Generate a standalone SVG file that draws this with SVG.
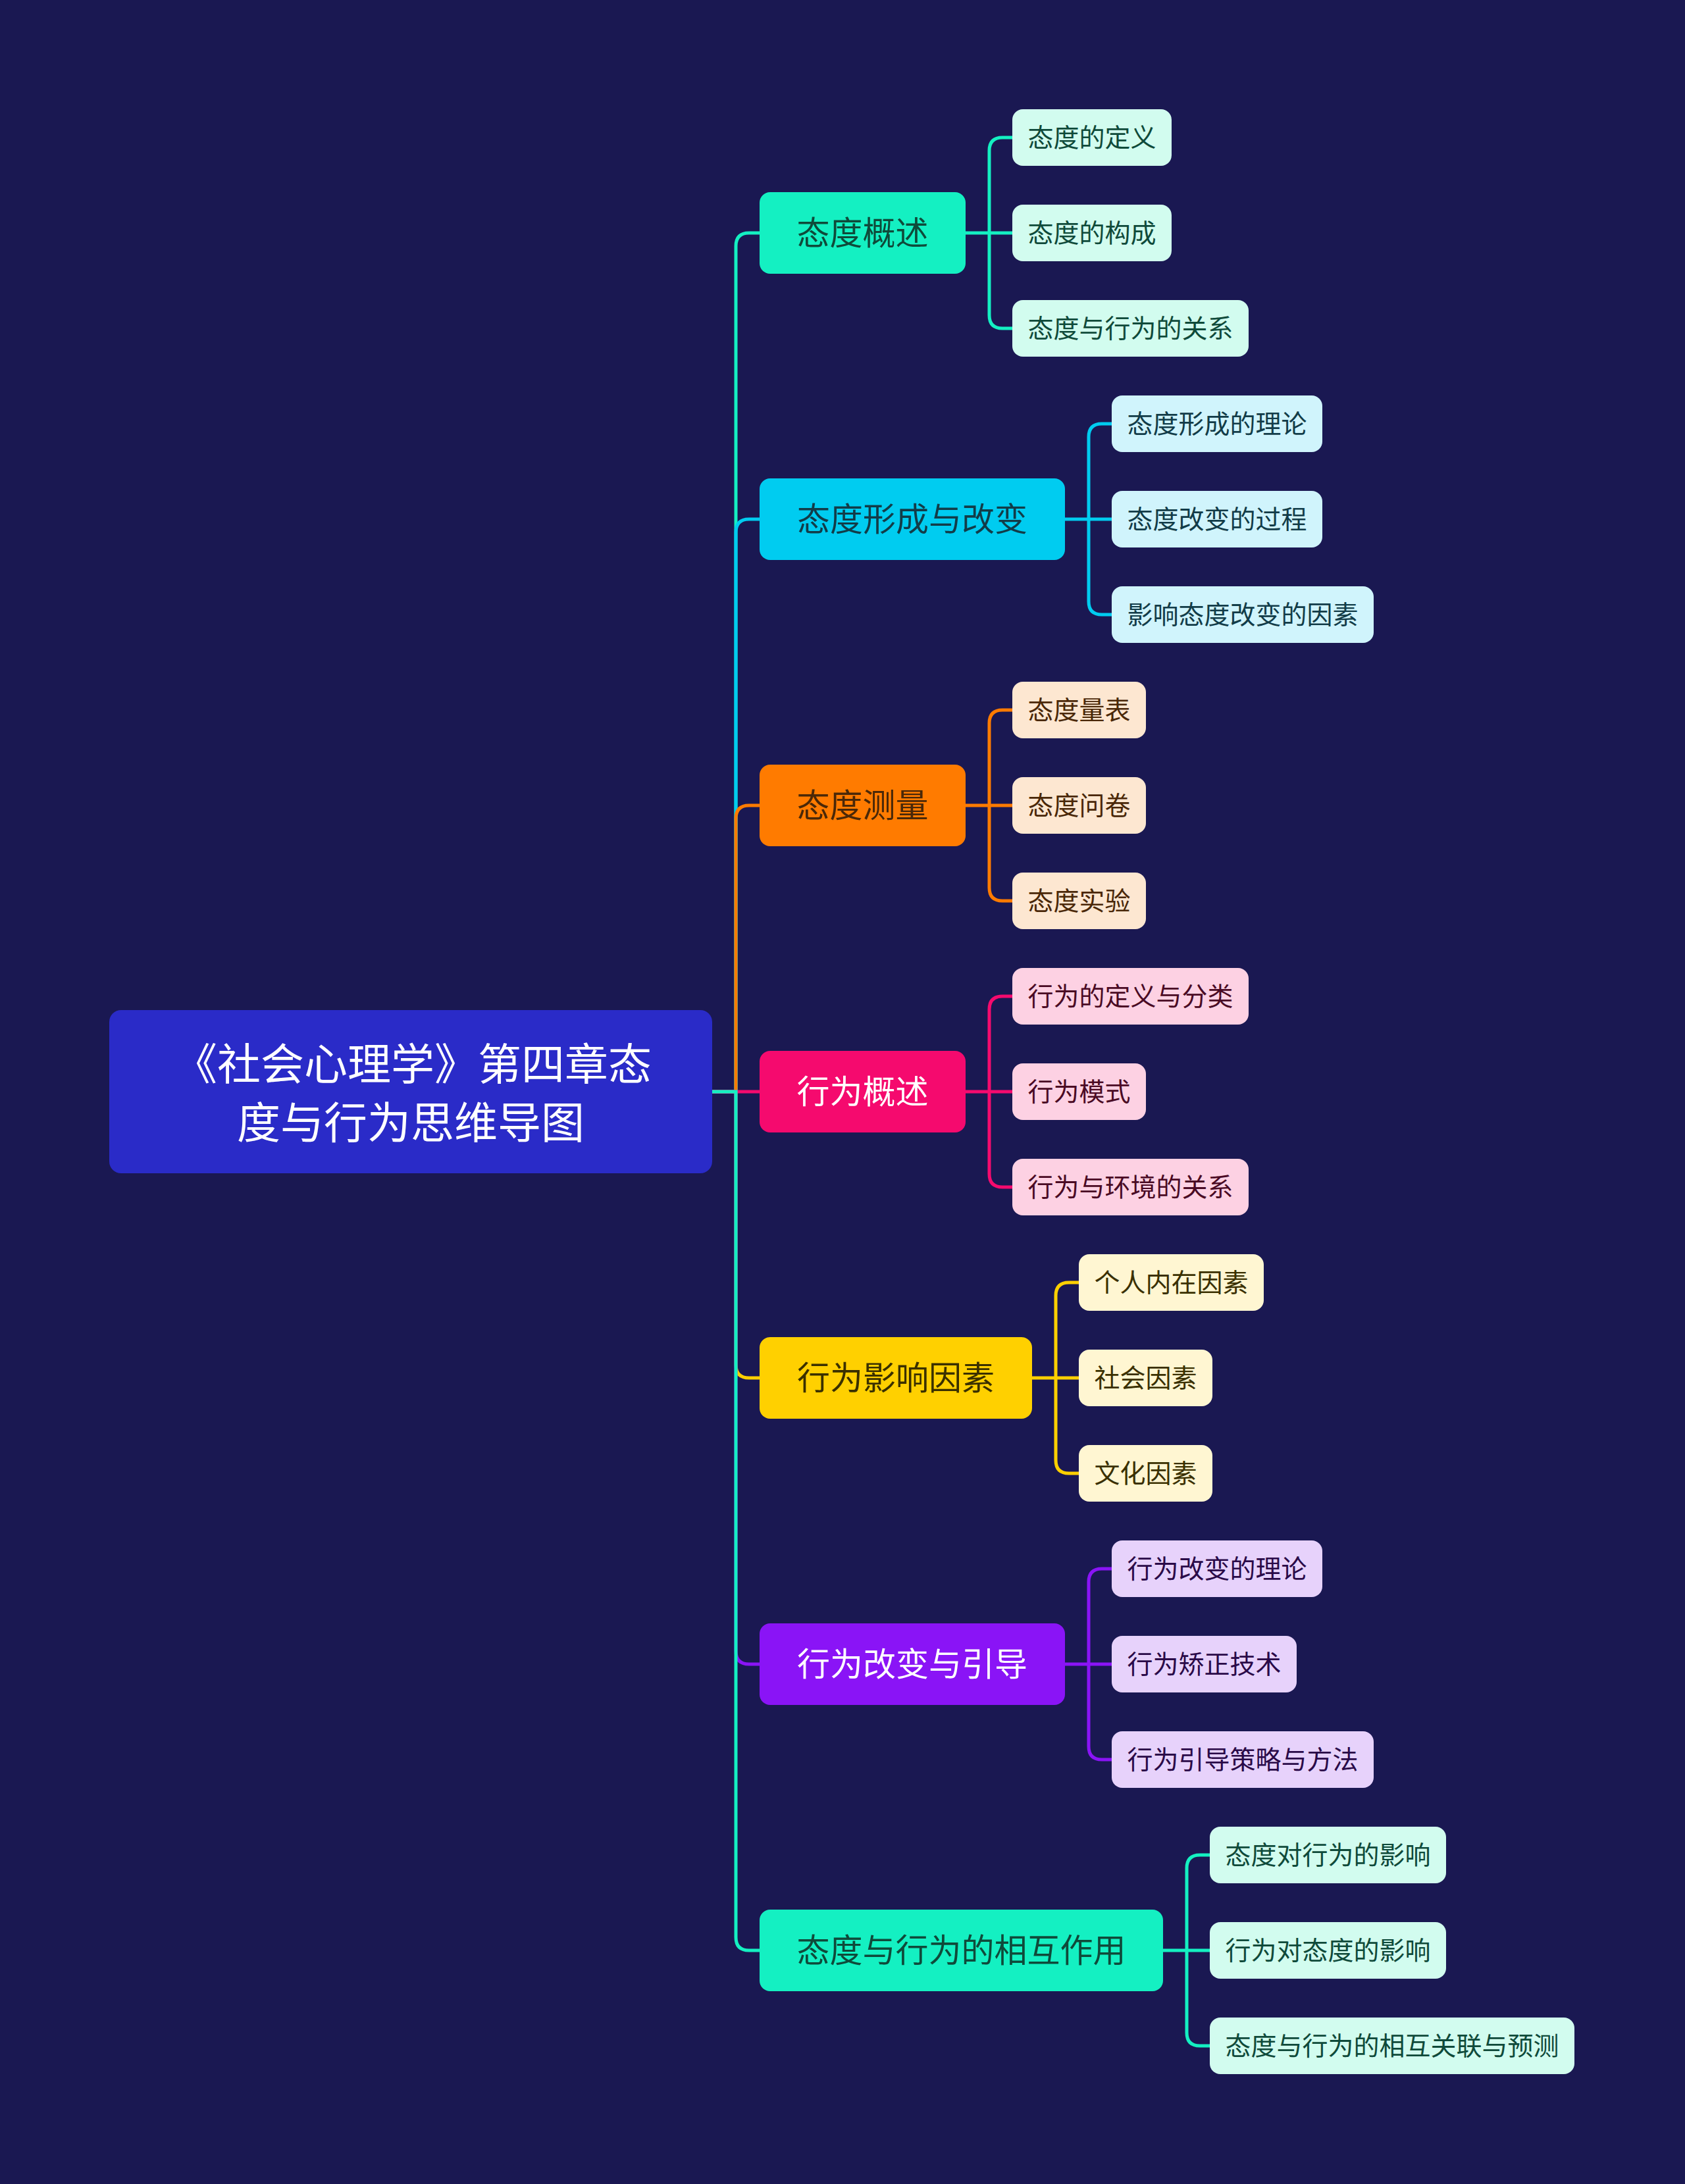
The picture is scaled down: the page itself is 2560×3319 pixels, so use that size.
<svg xmlns="http://www.w3.org/2000/svg" width="2560" height="3319" viewBox="0 0 2560 3319">
<style>
text{font-family:"Noto Sans CJK SC","Noto Sans",sans-serif;text-anchor:middle}
.m{font-size:50px}
.s{font-size:39px}
.c{fill:none;stroke-width:5;stroke-linecap:butt}
.tl{fill:#14f0c2}.tlc{stroke:#14f0c2}.tlt{fill:#0f4a3a}.tls{fill:#d2fcef}
.cy{fill:#00ccf0}.cyc{stroke:#00ccf0}.cyt{fill:#123c48}.cys{fill:#d0f4fc}
.or{fill:#ff7b00}.orc{stroke:#ff7b00}.ort{fill:#4a2808}.ors{fill:#fde7d1}
.pk{fill:#f50a6e}.pkc{stroke:#f50a6e}.pkt{fill:#4a0a24}.pks{fill:#fdd1e3}
.ye{fill:#ffd000}.yec{stroke:#ffd000}.yet{fill:#3a3000}.yes{fill:#fff6d2}
.pu{fill:#8a14f6}.puc{stroke:#8a14f6}.put{fill:#2a0a48}.pus{fill:#e7d2fb}
.w{fill:#ffffff}
</style>
<rect x="0" y="0" width="2560" height="3319" fill="#1a1852"/>
<g id="connectors">
<path class="c tlc" d="M1082 1659H1118V374Q1118 354 1138 354H1154"/>
<path class="c cyc" d="M1082 1659H1118V809Q1118 789 1138 789H1154"/>
<path class="c orc" d="M1082 1659H1118V1244Q1118 1224 1138 1224H1154"/>
<path class="c pkc" d="M1082 1659H1154"/>
<path class="c yec" d="M1082 1659H1118V2074Q1118 2094 1138 2094H1154"/>
<path class="c puc" d="M1082 1659H1118V2509Q1118 2529 1138 2529H1154"/>
<path class="c tlc" d="M1082 1659H1118V2944Q1118 2964 1138 2964H1154"/>

<path class="c tlc" d="M1467 354H1503V229Q1503 209 1523 209H1538M1467 354H1538M1467 354H1503V479Q1503 499 1523 499H1538"/>
<path class="c cyc" d="M1618 789H1654V664Q1654 644 1674 644H1689M1618 789H1689M1618 789H1654V914Q1654 934 1674 934H1689"/>
<path class="c orc" d="M1467 1224H1503V1099Q1503 1079 1523 1079H1538M1467 1224H1538M1467 1224H1503V1349Q1503 1369 1523 1369H1538"/>
<path class="c pkc" d="M1467 1659H1503V1534Q1503 1514 1523 1514H1538M1467 1659H1538M1467 1659H1503V1784Q1503 1804 1523 1804H1538"/>
<path class="c yec" d="M1568 2094H1604V1969Q1604 1949 1624 1949H1639M1568 2094H1639M1568 2094H1604V2219Q1604 2239 1624 2239H1639"/>
<path class="c puc" d="M1618 2529H1654V2404Q1654 2384 1674 2384H1689M1618 2529H1689M1618 2529H1654V2654Q1654 2674 1674 2674H1689"/>
<path class="c tlc" d="M1767 2964H1803V2839Q1803 2819 1823 2819H1838M1767 2964H1838M1767 2964H1803V3089Q1803 3109 1823 3109H1838"/>
</g>

<g id="root">
<rect x="166" y="1535" width="916" height="248" rx="18" fill="#2a2bc8"/>
<text x="627" y="1641" font-size="66" class="w">《社会心理学》第四章态</text>
<text x="624" y="1730" font-size="66" class="w">度与行为思维导图</text>
</g>

<g id="n1">
<rect class="tl" x="1154" y="292" width="313" height="124" rx="16"/>
<text class="m tlt" x="1310.5" y="372">态度概述</text>
</g>
<g id="n1a"><rect class="tls" x="1538" y="166" width="242" height="86" rx="16"/><text class="s tlt" x="1659" y="223">态度的定义</text></g>
<g id="n1b"><rect class="tls" x="1538" y="311" width="242" height="86" rx="16"/><text class="s tlt" x="1659" y="368">态度的构成</text></g>
<g id="n1c"><rect class="tls" x="1538" y="456" width="359" height="86" rx="16"/><text class="s tlt" x="1717.5" y="513">态度与行为的关系</text></g>

<g id="n2">
<rect class="cy" x="1154" y="727" width="464" height="124" rx="16"/>
<text class="m cyt" x="1386" y="807">态度形成与改变</text>
</g>
<g id="n2a"><rect class="cys" x="1689" y="601" width="320" height="86" rx="16"/><text class="s cyt" x="1849" y="658">态度形成的理论</text></g>
<g id="n2b"><rect class="cys" x="1689" y="746" width="320" height="86" rx="16"/><text class="s cyt" x="1849" y="803">态度改变的过程</text></g>
<g id="n2c"><rect class="cys" x="1689" y="891" width="398" height="86" rx="16"/><text class="s cyt" x="1888" y="948">影响态度改变的因素</text></g>

<g id="n3">
<rect class="or" x="1154" y="1162" width="313" height="124" rx="16"/>
<text class="m ort" x="1310.5" y="1242">态度测量</text>
</g>
<g id="n3a"><rect class="ors" x="1538" y="1036" width="203" height="86" rx="16"/><text class="s ort" x="1639.5" y="1093">态度量表</text></g>
<g id="n3b"><rect class="ors" x="1538" y="1181" width="203" height="86" rx="16"/><text class="s ort" x="1639.5" y="1238">态度问卷</text></g>
<g id="n3c"><rect class="ors" x="1538" y="1326" width="203" height="86" rx="16"/><text class="s ort" x="1639.5" y="1383">态度实验</text></g>

<g id="n4">
<rect class="pk" x="1154" y="1597" width="313" height="124" rx="16"/>
<text class="m w" x="1310.5" y="1677">行为概述</text>
</g>
<g id="n4a"><rect class="pks" x="1538" y="1471" width="359" height="86" rx="16"/><text class="s pkt" x="1717.5" y="1528">行为的定义与分类</text></g>
<g id="n4b"><rect class="pks" x="1538" y="1616" width="203" height="86" rx="16"/><text class="s pkt" x="1639.5" y="1673">行为模式</text></g>
<g id="n4c"><rect class="pks" x="1538" y="1761" width="359" height="86" rx="16"/><text class="s pkt" x="1717.5" y="1818">行为与环境的关系</text></g>

<g id="n5">
<rect class="ye" x="1154" y="2032" width="414" height="124" rx="16"/>
<text class="m yet" x="1361" y="2112">行为影响因素</text>
</g>
<g id="n5a"><rect class="yes" x="1639" y="1906" width="281" height="86" rx="16"/><text class="s yet" x="1779.5" y="1963">个人内在因素</text></g>
<g id="n5b"><rect class="yes" x="1639" y="2051" width="203" height="86" rx="16"/><text class="s yet" x="1740.5" y="2108">社会因素</text></g>
<g id="n5c"><rect class="yes" x="1639" y="2196" width="203" height="86" rx="16"/><text class="s yet" x="1740.5" y="2253">文化因素</text></g>

<g id="n6">
<rect class="pu" x="1154" y="2467" width="464" height="124" rx="16"/>
<text class="m w" x="1386" y="2547">行为改变与引导</text>
</g>
<g id="n6a"><rect class="pus" x="1689" y="2341" width="320" height="86" rx="16"/><text class="s put" x="1849" y="2398">行为改变的理论</text></g>
<g id="n6b"><rect class="pus" x="1689" y="2486" width="281" height="86" rx="16"/><text class="s put" x="1829.5" y="2543">行为矫正技术</text></g>
<g id="n6c"><rect class="pus" x="1689" y="2631" width="398" height="86" rx="16"/><text class="s put" x="1888" y="2688">行为引导策略与方法</text></g>

<g id="n7">
<rect class="tl" x="1154" y="2902" width="613" height="124" rx="16"/>
<text class="m tlt" x="1460.5" y="2982">态度与行为的相互作用</text>
</g>
<g id="n7a"><rect class="tls" x="1838" y="2776" width="359" height="86" rx="16"/><text class="s tlt" x="2017.5" y="2833">态度对行为的影响</text></g>
<g id="n7b"><rect class="tls" x="1838" y="2921" width="359" height="86" rx="16"/><text class="s tlt" x="2017.5" y="2978">行为对态度的影响</text></g>
<g id="n7c"><rect class="tls" x="1838" y="3066" width="554" height="86" rx="16"/><text class="s tlt" x="2115" y="3123">态度与行为的相互关联与预测</text></g>
</svg>
